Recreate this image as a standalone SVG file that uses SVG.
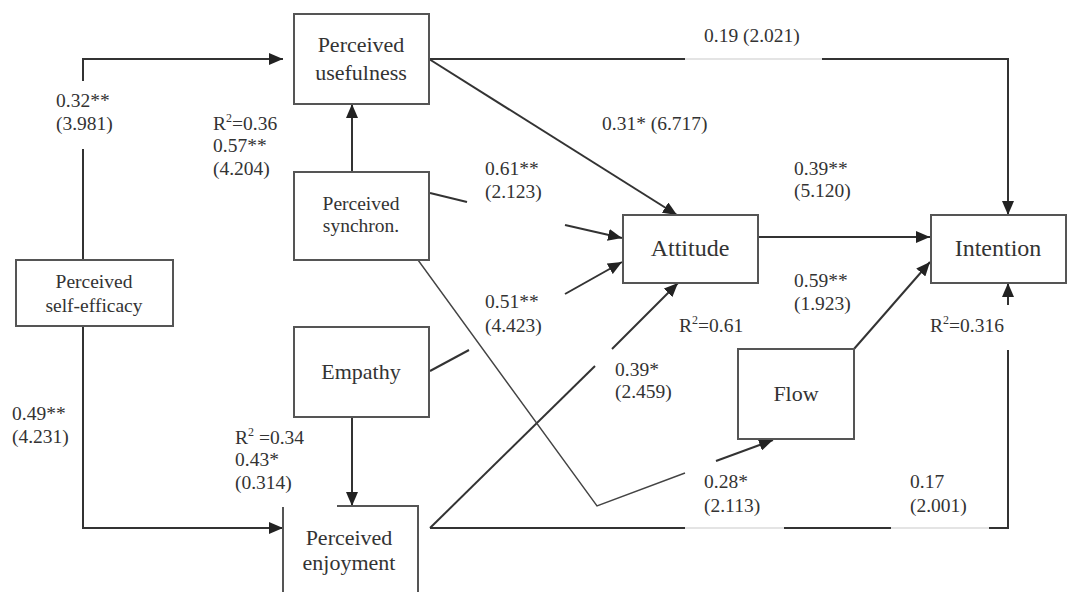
<svg xmlns="http://www.w3.org/2000/svg" width="1067" height="592" viewBox="0 0 1067 592">
<defs>
<marker id="ah" viewBox="0 0 14 12" refX="14" refY="6" markerWidth="14" markerHeight="12" markerUnits="userSpaceOnUse" orient="auto">
<path d="M0,0 L14,6 L0,12 Z" fill="#222"/>
</marker>
</defs>
<style>
.box{fill:#fff;stroke:#555;stroke-width:2}
.ln{fill:none;stroke:#333;stroke-width:2}
.thin{fill:none;stroke:#444;stroke-width:1.4}
.faint{fill:none;stroke:#e4e4e4;stroke-width:2}
.arr{marker-end:url(#ah)}
text{font-family:"Liberation Serif","Times New Roman",serif;fill:#333}
.nl{font-size:22px;text-anchor:middle}
.ns{font-size:19.5px;text-anchor:middle}
.nb{font-size:24px;text-anchor:middle}
.el{font-size:19.5px}
.sup{font-size:12px}
</style>
<rect width="1067" height="592" fill="#fff"/>

<g id="connectors">
<!-- self-efficacy -> usefulness -->
<path class="ln" d="M83,260 V149"/>
<path class="ln arr" d="M83,81 V59 H283"/>
<!-- self-efficacy -> enjoyment -->
<path class="ln arr" d="M83,326 V528 H283"/>
<!-- synchron -> usefulness -->
<path class="ln arr" d="M352,172 V104"/>
<!-- usefulness -> intention (top) -->
<path class="ln" d="M429,59 H685"/>
<path class="faint" d="M685,59 H822"/>
<path class="ln arr" d="M822,59 H1008 V215"/>
<!-- usefulness -> attitude -->
<path class="ln arr" d="M429,59 L677,215"/>
<!-- synchron -> attitude -->
<path class="ln" d="M430,193 L467,202"/>
<path class="ln arr" d="M565,225 L622,238"/>
<!-- empathy -> attitude -->
<path class="ln" d="M430,371 L469,350"/>
<path class="ln arr" d="M565,294 L622,262"/>
<!-- empathy -> enjoyment -->
<path class="ln arr" d="M352,417 V506"/>
<!-- enjoyment -> attitude -->
<path class="ln" d="M430,528 L595,366"/>
<path class="ln arr" d="M612,349 L678,283"/>
<!-- synchron -> flow -->
<path class="thin" d="M418,260 L597,506 L685,473"/>
<path class="ln arr" d="M716,461 L773,440"/>
<!-- attitude -> intention -->
<path class="ln arr" d="M758,237 H930"/>
<!-- flow -> intention -->
<path class="ln arr" d="M854,349 L930,262"/>
<!-- enjoyment -> intention (bottom) -->
<path class="ln" d="M430,528 H685"/>
<path class="faint" d="M685,528 H784"/>
<path class="ln" d="M784,528 H891"/>
<path class="faint" d="M891,528 H989"/>
<path class="ln" d="M989,528 H1008 V350"/>
<path class="ln arr" d="M1008,305 V283"/>
</g>

<g id="usefulness">
<rect class="box" x="294" y="14" width="135" height="90"/>
<text class="nl" x="361" y="52">Perceived</text>
<text class="nl" x="361" y="80">usefulness</text>
</g>
<g id="synchron">
<rect class="box" x="294" y="172" width="135" height="88"/>
<text class="ns" x="361" y="210">Perceived</text>
<text class="ns" x="361" y="232">synchron.</text>
</g>
<g id="selfefficacy">
<rect class="box" x="16" y="260" width="157" height="66"/>
<text class="ns" x="94" y="288">Perceived</text>
<text class="ns" x="94" y="312">self-efficacy</text>
</g>
<g id="empathy">
<rect class="box" x="294" y="327" width="135" height="90"/>
<text class="nl" x="361" y="379">Empathy</text>
</g>
<g id="enjoyment">
<path fill="#fff" stroke="none" d="M283,506 H418 V600 H283 Z"/>
<path fill="none" stroke="#555" stroke-width="2" d="M283,600 V507 M337,506 H418 V600"/>
<text class="nl" x="349" y="545">Perceived</text>
<text class="nl" x="349" y="570">enjoyment</text>
</g>
<g id="attitude">
<rect class="box" x="623" y="215" width="135" height="68"/>
<text class="nb" x="690" y="256">Attitude</text>
</g>
<g id="intention">
<rect class="box" x="931" y="215" width="135" height="68"/>
<text class="nb" x="998" y="256">Intention</text>
</g>
<g id="flow">
<rect class="box" x="738" y="349" width="116" height="90"/>
<text class="nl" x="796" y="401">Flow</text>
</g>

<g id="labels">
<text class="el" x="56" y="107">0.32**</text>
<text class="el" x="56" y="130">(3.981)</text>
<text class="el" x="213" y="130">R<tspan class="sup" dy="-8">2</tspan><tspan dy="8">=0.36</tspan></text>
<text class="el" x="213" y="152">0.57**</text>
<text class="el" x="213" y="175">(4.204)</text>
<text class="el" x="704" y="42">0.19 (2.021)</text>
<text class="el" x="602" y="130">0.31* (6.717)</text>
<text class="el" x="485" y="175">0.61**</text>
<text class="el" x="485" y="198">(2.123)</text>
<text class="el" x="794" y="175">0.39**</text>
<text class="el" x="794" y="197">(5.120)</text>
<text class="el" x="485" y="308">0.51**</text>
<text class="el" x="485" y="332">(4.423)</text>
<text class="el" x="794" y="287">0.59**</text>
<text class="el" x="794" y="310">(1.923)</text>
<text class="el" x="679" y="332">R<tspan class="sup" dy="-8">2</tspan><tspan dy="8">=0.61</tspan></text>
<text class="el" x="930" y="332">R<tspan class="sup" dy="-8">2</tspan><tspan dy="8">=0.316</tspan></text>
<text class="el" x="615" y="376">0.39*</text>
<text class="el" x="615" y="398">(2.459)</text>
<text class="el" x="12" y="420">0.49**</text>
<text class="el" x="12" y="443">(4.231)</text>
<text class="el" x="235" y="444">R<tspan class="sup" dy="-8">2</tspan><tspan dy="8"> =0.34</tspan></text>
<text class="el" x="235" y="466">0.43*</text>
<text class="el" x="235" y="489">(0.314)</text>
<text class="el" x="704" y="488">0.28*</text>
<text class="el" x="704" y="512">(2.113)</text>
<text class="el" x="910" y="488">0.17</text>
<text class="el" x="910" y="512">(2.001)</text>
</g>
</svg>
